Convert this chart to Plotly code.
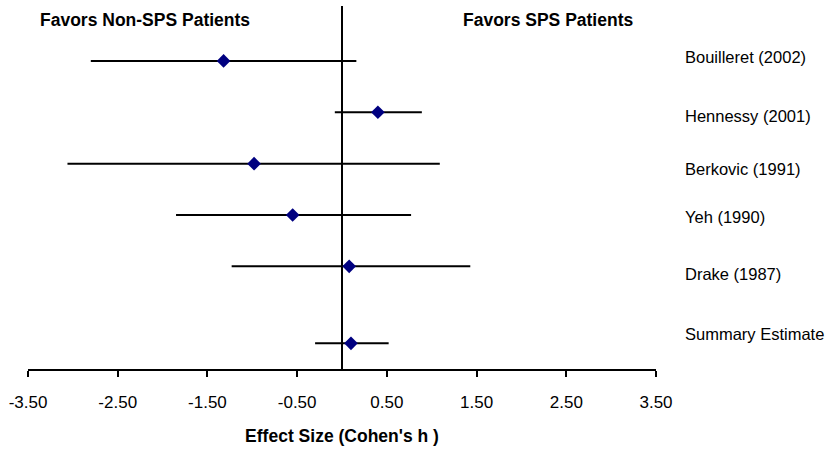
import plotly.graph_objects as go

# ---- data ----
studies = ["Bouilleret (2002)", "Hennessy (2001)", "Berkovic (1991)", "Yeh (1990)",
           "Drake (1987)", "Summary Estimate"]
row_pos = [6, 5, 4, 3, 2, 0.5]
effect = [-1.32, 0.40, -0.98, -0.55, 0.08, 0.10]
ci_low = [-2.80, -0.08, -3.06, -1.85, -1.23, -0.30]
ci_high = [0.16, 0.89, 1.09, 0.77, 1.43, 0.52]
tick_vals = [-3.5, -2.5, -1.5, -0.5, 0.5, 1.5, 2.5, 3.5]
tick_text = [f"{v:.2f}" for v in tick_vals]
header_left = "Favors Non-SPS Patients"
header_right = "Favors SPS Patients"
x_title = "Effect Size (Cohen's h )"

# ---- style ----
FONT = "Liberation Sans, Arial, sans-serif"
label_yshift = [4, -4, -5, -2, -8, 9]

err_plus = [h - e for h, e in zip(ci_high, effect)]
err_minus = [e - l for e, l in zip(effect, ci_low)]

fig = go.Figure()
fig.add_trace(go.Scatter(
    x=effect, y=row_pos, mode="markers",
    marker=dict(symbol="diamond", size=10.5, color="#000080"),
    error_x=dict(type="data", symmetric=False, array=err_plus, arrayminus=err_minus,
                 width=0, thickness=2, color="black"),
    showlegend=False, hoverinfo="skip",
))

fig.add_shape(type="line", xref="x", yref="paper", x0=0, x1=0, y0=0, y1=1,
              line=dict(color="black", width=2), layer="below")

annotations = []
for name, y, ys in zip(studies, row_pos, label_yshift):
    annotations.append(dict(text=name, xref="paper", yref="y", x=1.043, y=y, yshift=ys,
                            xanchor="left", yanchor="middle", showarrow=False,
                            font=dict(family=FONT, size=16.5, color="black")))
annotations.append(dict(text=f"<b>{header_left}</b>", xref="x", yref="y", x=-2.2, y=6.8,
                        xanchor="center", yanchor="middle", showarrow=False,
                        font=dict(family=FONT, size=17.5, color="black")))
annotations.append(dict(text=f"<b>{header_right}</b>", xref="x", yref="y", x=2.3, y=6.8,
                        xanchor="center", yanchor="middle", showarrow=False,
                        font=dict(family=FONT, size=17.5, color="black")))

fig.update_layout(
    width=836, height=453,
    margin=dict(l=28, r=180, t=6, b=84),
    paper_bgcolor="white", plot_bgcolor="white",
    font=dict(family=FONT, size=17, color="black"),
    xaxis=dict(range=[-3.5, 3.5], tickvals=tick_vals, ticktext=tick_text,
               showline=True, linecolor="black", linewidth=2,
               ticks="outside", ticklen=6, tickwidth=2, tickcolor="black",
               ticklabelstandoff=11,
               showgrid=False, zeroline=False, automargin=False,
               tickfont=dict(family=FONT, size=17),
               title=dict(text=f"<b>{x_title}</b>", font=dict(family=FONT, size=17.5),
                          standoff=18)),
    yaxis=dict(range=[0, 7.07], visible=False, showgrid=False, zeroline=False,
               automargin=False),
    annotations=annotations,
)

fig.write_html("out.html", config={"displayModeBar": False},
               post_script="document.body.style.margin='0';")
